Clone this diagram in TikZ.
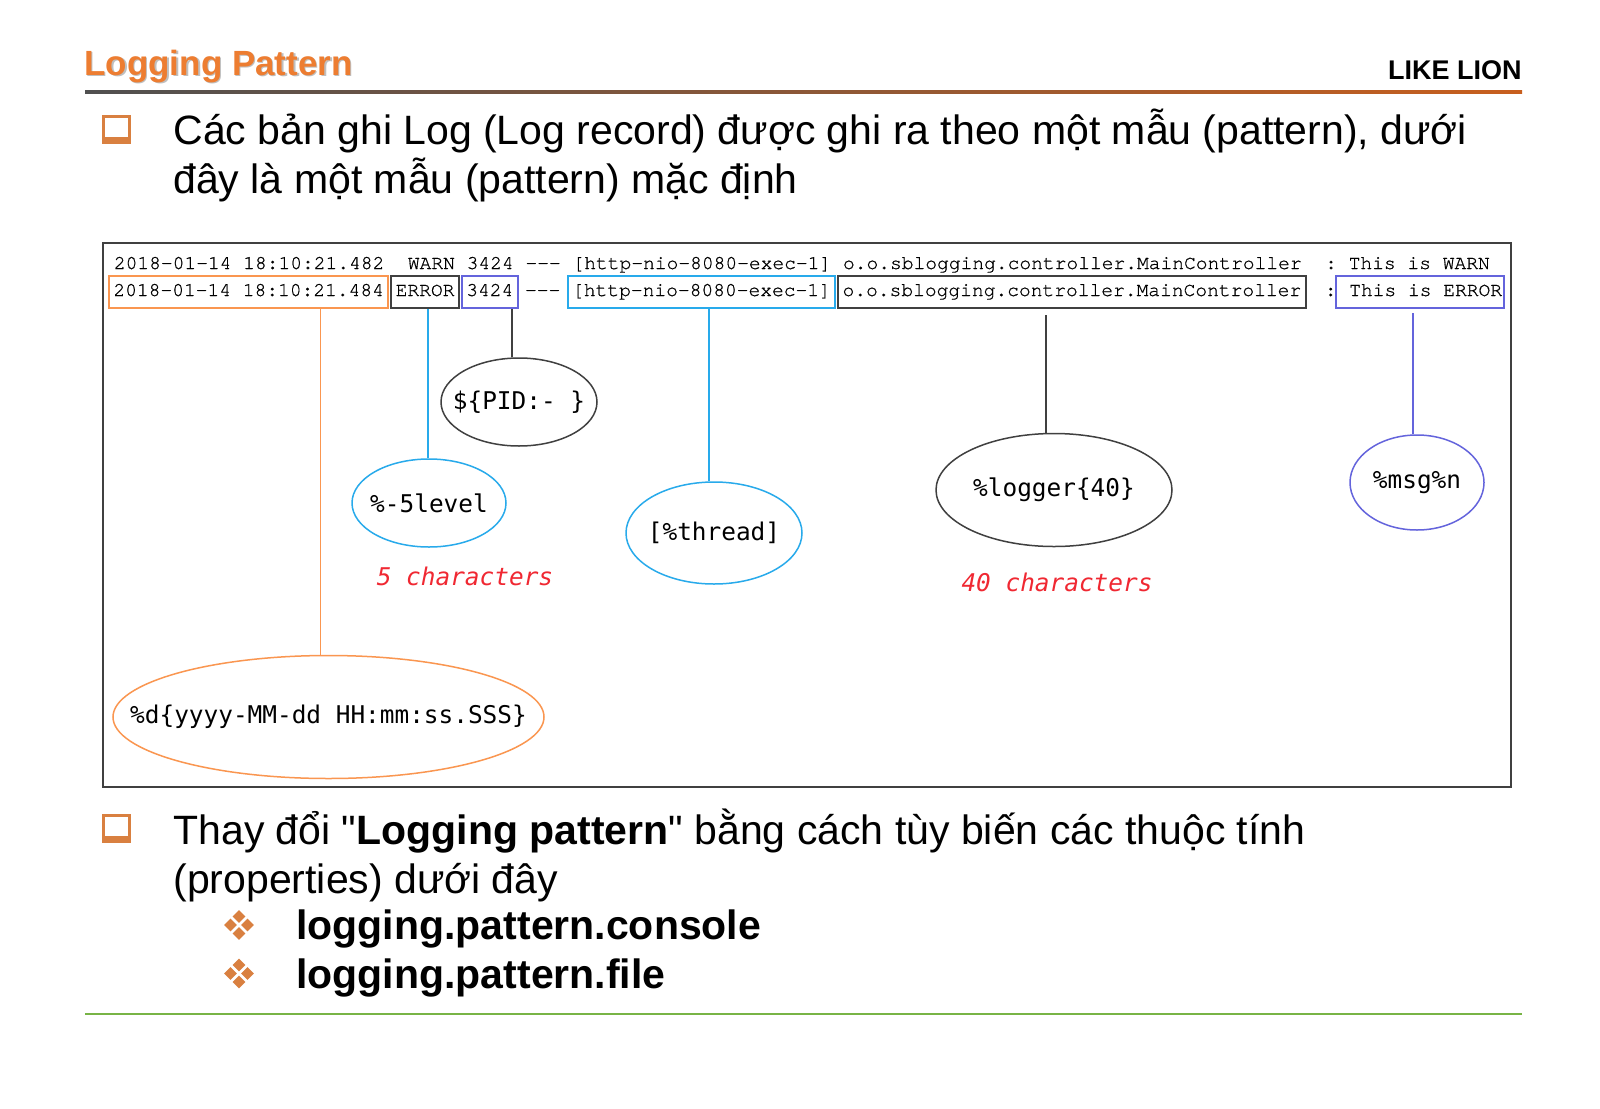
\documentclass[tikz,border=0pt]{standalone}
\usepackage{fontspec}
\setmainfont{Liberation Sans}
\newfontfamily\logfont{TeX Gyre Cursor}[FakeBold=0.8]
\newfontfamily\patfont{DejaVu Sans Mono}
\usetikzlibrary{shapes.geometric,calc}

\definecolor{titleorange}{RGB}{237,125,49}
\definecolor{bulletorange}{RGB}{217,128,64}
\definecolor{dateorange}{RGB}{250,150,80}
\definecolor{levelcyan}{RGB}{40,170,235}
\definecolor{msgblue}{RGB}{100,100,220}
\definecolor{framegray}{RGB}{64,64,64}
\definecolor{notered}{RGB}{240,40,50}
\definecolor{rulegreen}{RGB}{120,180,70}
\definecolor{rulegray}{RGB}{80,80,80}
\definecolor{rulebrown}{RGB}{200,95,30}

% pattern text sits in a zero-width box so the ellipse size is set by the style
\newcommand\patlabel[1]{\makebox[0pt]{#1}}
% a straight double quote, bypassing the tex-text mapping
\newcommand\straightquote{\XeTeXglyph\XeTeXcharglyph"22\relax}

\tikzset{
  body/.style={anchor=base west, inner sep=0pt, font=\fontsize{20.5}{24}\selectfont},
  logline/.style={anchor=base west, inner sep=0pt, font=\logfont\fontsize{9.8}{11}\selectfont},
  logseg/.style={anchor=base, inner xsep=2.2pt, inner ysep=3pt, text height=7pt,
    text depth=3pt, line width=1pt, font=\logfont\fontsize{9.8}{11}\selectfont},
  patell/.style={ellipse, draw, line width=0.75pt, inner sep=0pt,
    font=\patfont\fontsize{12.2}{14}\selectfont},
  link/.style={line width=0.9pt},
  note/.style={font=\patfont\itshape\fontsize{12.2}{14}\selectfont, text=notered},
  sqbullet/.pic={
    \fill[bulletorange] (0,0) rectangle (29,29);
    \fill[white] (2.5,2.5) rectangle (25.5,22);
  },
  diabullet/.pic={
    \foreach \dx/\dy in {0/-8.5,-8.5/0,8.5/0,0/8.5}
      \fill[bulletorange] (\dx,\dy) ++(0,-6.3) -- ++(6.3,6.3) -- ++(-6.3,6.3) -- ++(-6.3,-6.3) -- cycle;
  }
}

\begin{document}
\begin{tikzpicture}[x=0.5pt,y=-0.5pt]
\useasboundingbox (0,0) rectangle (1600,1108);
\fill[white] (0,0) rectangle (1600,1108);

% heading
\node[anchor=base west, inner sep=0pt, font=\bfseries\fontsize{17.5}{20}\selectfont, text=black!25] at (85.5,76.5) {Logging Pattern};
\node[anchor=base west, inner sep=0pt, font=\bfseries\fontsize{17.5}{20}\selectfont, text=titleorange] (title) at (84,75) {Logging Pattern};
\node[anchor=base east, inner sep=0pt, font=\bfseries\fontsize{13.5}{16}\selectfont] (brand) at (1522,79) {LIKE LION};
\shade[left color=rulegray, right color=rulebrown] (85,90.5) rectangle (1522,93.5);

% first bullet
\pic at (102,115) {sqbullet};
\node[body] (intro1) at (173,144) {Các bản ghi Log (Log record) được ghi ra theo một mẫu (pattern), dưới};
\node[body] (intro2) at (173,193) {đây là một mẫu (pattern) mặc định};

% log sample frame
\draw[framegray, line width=1.2pt] (103,243) rectangle (1511,787);

\node[logline] (warn) at (113.5,269) {2018-01-14 18:10:21.482~~WARN 3424 -{}-{}- [http-nio-8080-exec-1] o.o.sblogging.controller.MainController~~:~This is WARN};

\node[logseg, draw=dateorange] (date) at (248.7,296) {2018-01-14 18:10:21.484};
\node[logseg, draw=framegray] (lvlbox) at (425.1,296) {ERROR};
\node[logseg, draw=msgblue] (pidbox) at (489.8,296) {3424};
\node[logseg] (dash) at (542.7,296) {-{}-{}-};
\node[logseg, draw=levelcyan] (thrbox) at (701.5,296) {[http-nio-8080-exec-1]};
\node[logseg, draw=framegray] (logbox) at (1071.9,296) {o.o.sblogging.controller.MainController};
\node[logseg] (colon) at (1330.7,296) {:};
\node[logseg, draw=msgblue, anchor=base west, inner xsep=1pt] (msgbox) at (1335,296) {\hspace*{5.6pt}This~is~ERROR};

% pattern ellipses
\node[patell, draw=framegray, minimum width=78pt, minimum height=44pt] (pidp) at (519,402) {\patlabel{\$\{PID:-~\}}};
\node[patell, draw=levelcyan, minimum width=77pt, minimum height=44pt] (lvlp) at (429,503) {\patlabel{\%-5level}};
\node[patell, draw=levelcyan, minimum width=88pt, minimum height=51pt] (thrp) at (714,533) {\patlabel{[\%thread]}};
\node[patell, draw=framegray, minimum width=118pt, minimum height=56.5pt] (logp) at (1054,490) {\patlabel{\%logger\{40\}}};
\node[patell, draw=msgblue, minimum width=67pt, minimum height=47.5pt] (msgp) at (1417,482.5) {\patlabel{\%msg\%n}};
\node[patell, draw=dateorange, minimum width=215.5pt, minimum height=61.5pt] (datep) at (328.5,717) {\patlabel{\%d\{yyyy-MM-dd~HH:mm:ss.SSS\}}};

\node[note] (lvlnote) at (465,576.5) {5 characters};
\node[note] (lognote) at (1057,582) {40 characters};

% connectors
\draw[link, dateorange] (320.5,0 |- date.south) -- (320.5,0 |- datep.north);
\draw[link, levelcyan] (428,0 |- lvlbox.south) -- (428,0 |- lvlp.north);
\draw[link, framegray] (512,0 |- pidbox.south) -- (512,0 |- pidp.north);
\draw[link, levelcyan] (709,0 |- thrbox.south) -- (709,0 |- thrp.north);
\draw[link, framegray] ($(1046,0 |- logbox.south)+(0,6)$) -- (1046,0 |- logp.north);
\draw[link, msgblue] ($(1413,0 |- msgbox.south)+(0,4)$) -- (1413,0 |- msgp.north);

% second bullet
\pic at (102,814) {sqbullet};
\node[body] (change1) at (173,844) {Thay đổi \straightquote\textbf{Logging pattern}\straightquote{} bằng cách tùy biến các thuộc tính};
\node[body] (change2) at (173,893) {(properties) dưới đây};
\pic at (239,925) {diabullet};
\node[body, font=\bfseries\fontsize{20.5}{24}\selectfont] (propconsole) at (296,939) {logging.pattern.console};
\pic at (239,973.5) {diabullet};
\node[body, font=\bfseries\fontsize{20.5}{24}\selectfont] (propfile) at (296,988) {logging.pattern.file};

\draw[rulegreen, line width=1.1pt] (85,1014) -- (1522,1014);
\end{tikzpicture}
\end{document}
